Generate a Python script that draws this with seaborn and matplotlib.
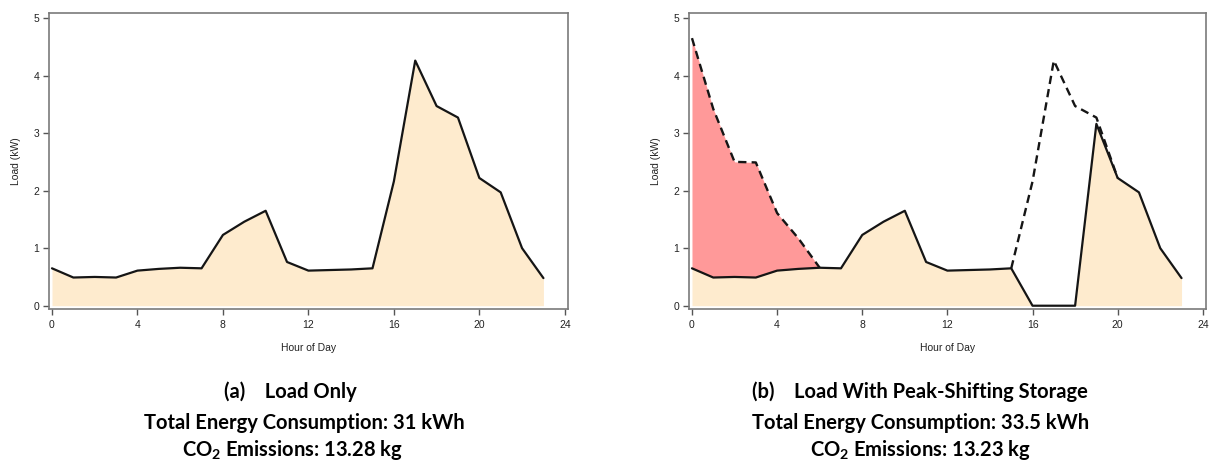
import numpy as np
import pandas as pd
import matplotlib
matplotlib.use("Agg")
import matplotlib.pyplot as plt
import seaborn as sns

# Hourly household load (kW)
hours = list(range(24))
load_kw = [0.65, 0.49, 0.50, 0.49, 0.61, 0.64, 0.66, 0.65,
           1.23, 1.46, 1.65, 0.76, 0.61, 0.62, 0.63, 0.65,
           2.16, 4.26, 3.47, 3.27, 2.22, 1.97, 1.00, 0.48]

# Grid draw after peak shifting: evening peak served from storage
shifted_kw = [0.65, 0.49, 0.50, 0.49, 0.61, 0.64, 0.66, 0.65,
              1.23, 1.46, 1.65, 0.76, 0.61, 0.62, 0.63, 0.65,
              0.00, 0.00, 0.00, 3.16, 2.22, 1.97, 1.00, 0.48]

# Night-time draw including battery charging (hours 0-6)
charge_hours = [0, 1, 2, 3, 4, 5, 6]
charge_kw = [4.65, 3.42, 2.50, 2.49, 1.61, 1.17, 0.66]

# Original evening load replaced by storage (hours 15-20)
peak_hours = [15, 16, 17, 18, 19, 20]
peak_kw = [0.65, 2.16, 4.26, 3.47, 3.27, 2.22]

x_ticks = [0, 4, 8, 12, 16, 20, 24]
y_ticks = [0, 1, 2, 3, 4, 5]

captions_a = ["(a)    Load Only",
              "Total Energy Consumption: 31 kWh",
              r"CO$_{\mathbf{2}}$ Emissions: 13.28 kg"]
captions_b = ["(b)    Load With Peak-Shifting Storage",
              "Total Energy Consumption: 33.5 kWh",
              r"CO$_{\mathbf{2}}$ Emissions: 13.23 kg"]

sns.set_theme(style="white")
plt.rcParams["font.family"] = ["Liberation Sans", "DejaVu Sans"]
plt.rcParams["mathtext.fontset"] = "custom"
plt.rcParams["mathtext.bf"] = "Lato:bold"
plt.rcParams["mathtext.rm"] = "Lato:bold"

W, H = 1209, 461
fig = plt.figure(figsize=(W / 100, H / 100), dpi=100)

def px_axes(x0, x1, y0, y1):
    return fig.add_axes([x0 / W, 1 - y1 / H, (x1 - x0) / W, (y1 - y0) / H])

ax_a = px_axes(49, 568, 13, 309)
ax_b = px_axes(689, 1206, 13, 309)

wheat = "#FEEBCE"
red = "#FF9999"
line_col = "#151515"

def style_axes(ax):
    ax.set_xlim(-0.14, 24.15)
    ax.set_ylim(-0.057, 5.087)
    ax.set_xticks(x_ticks)
    ax.set_yticks(y_ticks)
    ax.tick_params(axis="both", direction="out", length=4, width=1,
                   color="#555555", labelsize=7.5, labelcolor="#222222", pad=3,
                   bottom=True, left=True)
    ax.tick_params(axis="x", pad=4)
    for sp in ax.spines.values():
        sp.set_color("#7a7a7a")
        sp.set_linewidth(1.2)
        sp.set_visible(True)
    ax.set_xlabel("Hour of Day", fontsize=7.5, color="#222222", labelpad=9)
    ax.set_ylabel("Load (kW)", fontsize=7.5, color="#222222", labelpad=9)
    ax.grid(False)

# (a) Load only
df_a = pd.DataFrame({"hour": hours, "load": load_kw})
ax_a.fill_between(df_a["hour"], 0, df_a["load"], color=wheat, linewidth=0)
sns.lineplot(data=df_a, x="hour", y="load", ax=ax_a, color=line_col, linewidth=1.6)
style_axes(ax_a)

# (b) Load with peak-shifting storage
df_b = pd.DataFrame({"hour": hours, "load": shifted_kw})
df_c = pd.DataFrame({"hour": charge_hours, "load": charge_kw})
df_p = pd.DataFrame({"hour": peak_hours, "load": peak_kw})
ax_b.fill_between(df_b["hour"], 0, df_b["load"], color=wheat, linewidth=0)
ax_b.fill_between(df_c["hour"], df_b["load"][:len(charge_hours)], df_c["load"],
                  color=red, linewidth=0)
sns.lineplot(data=df_b, x="hour", y="load", ax=ax_b, color=line_col, linewidth=1.6)
sns.lineplot(data=df_c, x="hour", y="load", ax=ax_b, color=line_col,
             linewidth=1.7, dashes=False, linestyle=(0, (3.5, 2.2)))
sns.lineplot(data=df_p, x="hour", y="load", ax=ax_b, color=line_col,
             linewidth=1.7, dashes=False, linestyle=(0, (3.5, 2.2)))
style_axes(ax_b)

# Captions under each panel
cap_font = dict(family=["Lato", "DejaVu Sans"], weight="bold", fontsize=14.5,
                color="black", ha="center", va="center")
line_y = [392, 423, 450]
for txt, xc, yc in zip(captions_a, [290, 304, 292], line_y):
    fig.text(xc / W, 1 - yc / H, txt, **cap_font)
for txt, xc, yc in zip(captions_b, [920, 921, 920], line_y):
    fig.text(xc / W, 1 - yc / H, txt, **cap_font)

fig.savefig("out.png", dpi=100)
